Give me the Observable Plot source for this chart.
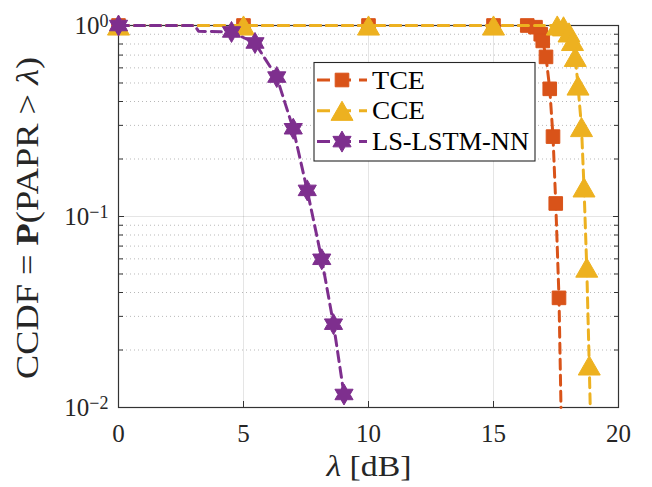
<!DOCTYPE html>
<html><head><meta charset="utf-8">
<script src="https://cdn.jsdelivr.net/npm/d3@7"></script>
<script src="https://cdn.jsdelivr.net/npm/@observablehq/plot@0.6"></script>
<style>body{margin:0;background:#fff} svg{display:block}</style>
</head><body><div id="chart"></div>
<script>
// ---- data ----
const seriesNames = ["TCE", "CCE", "LS-LSTM-NN"];
const seriesColors = ["#D95319", "#EDB120", "#7E2F8E"];

const tceX = [0, 5, 10, 15, 16.35, 16.68, 16.89, 16.97, 17.1, 17.25, 17.38, 17.49, 17.62, 17.70];
const tceY = [1, 1, 1, 1, 1, 0.98, 0.90, 0.83, 0.685, 0.466, 0.262, 0.117, 0.0375, 0.01];
const tceMk = [1,1,1,1,1,1,1,1,1,1,1,1,1,0];

const cceX = [0, 5, 10, 15, 17.55, 17.8, 18.02, 18.16, 18.27, 18.38, 18.52, 18.62, 18.73, 18.83, 18.87];
const cceY = [1, 1, 1, 1, 1, 0.99, 0.92, 0.83, 0.685, 0.485, 0.294, 0.142, 0.054, 0.0166, 0.01];
const cceMk = [1,1,1,1,1,1,1,1,1,1,1,1,1,1,0];

const lsX = [0, 3.05, 3.2, 4.52, 5.46, 6.33, 6.99, 7.55, 8.13, 8.6, 9.02];
const lsY = [1, 1, 0.933, 0.925, 0.81, 0.537, 0.288, 0.137, 0.0597, 0.0273, 0.0117];
const lsMk = [1,0,0,1,1,1,1,1,1,1,1];

const xTicks = [0, 5, 10, 15, 20];
const yTicks = [0.01, 0.1, 1];
const yTickLabels = ["10^−2", "10^−1", "10^0"];

// ---- build table ----
function rows(name, xs, ys, mk) { return xs.map((x, i) => ({series: name, x, y: ys[i], mk: mk[i]})); }
const tce = rows("TCE", tceX, tceY, tceMk);
const cce = rows("CCE", cceX, cceY, cceMk);
const ls = rows("LS-LSTM-NN", lsX, lsY, lsMk);

// custom marker symbols
const sqSym = {draw(ctx, size) { const r = Math.sqrt(size / Math.PI); ctx.moveTo(-r, -r); ctx.lineTo(r, -r); ctx.lineTo(r, r); ctx.lineTo(-r, r); ctx.closePath(); }};
const triSym = {draw(ctx, size) { const r = Math.sqrt(size / Math.PI); const h = r * 0.87; ctx.moveTo(0, -h); ctx.lineTo(r, h); ctx.lineTo(-r, h); ctx.closePath(); }};
const hexSym = {draw(ctx, size) { const R = Math.sqrt(size / Math.PI); const ri = R / Math.sqrt(3);
  for (let k = 0; k < 12; k++) { const a = -Math.PI / 2 + k * Math.PI / 6; const rr = k % 2 ? ri : R; const px = rr * Math.cos(a), py = rr * Math.sin(a); k ? ctx.lineTo(px, py) : ctx.moveTo(px, py); } ctx.closePath(); }};
const symbols = [sqSym, triSym, hexSym];
const symR = [6.8, 11, 10.5];

const minor = [];
for (const d of [0.01, 0.1]) for (let k = 2; k <= 9; k++) minor.push(+(k * d).toFixed(3));

const dash = "10,6";
const sets = [tce, cce, ls];
const dataMarks = [];
sets.forEach((s, i) => {
  dataMarks.push(Plot.line(s, {x: "x", y: "y", stroke: seriesColors[i], strokeWidth: 3, strokeDasharray: dash}));
  dataMarks.push(Plot.dot(s.filter(d => d.mk), {x: "x", y: "y", r: symR[i], symbol: () => symbols[i], fill: seriesColors[i], stroke: seriesColors[i], strokeWidth: 1}));
});

const axisColor = "#333";
const plot = Plot.plot({
  width: 652, height: 487,
  marginLeft: 118, marginRight: 34, marginTop: 25, marginBottom: 80,
  style: {fontFamily: "'Liberation Serif', serif", background: "#fff", overflow: "visible"},
  x: {domain: [0, 20]},
  y: {type: "log", domain: [0.01, 1]},
  marks: [
    Plot.gridY(minor, {stroke: "#000", strokeOpacity: 0.28, strokeDasharray: "1,3"}),
    Plot.gridX([5, 10, 15], {stroke: "#000", strokeOpacity: 0.1}),
    Plot.gridY([0.1], {stroke: "#000", strokeOpacity: 0.1}),
    Plot.frame({stroke: axisColor, strokeWidth: 1.2}),
    // inward ticks
    Plot.axisX({anchor: "bottom", ticks: xTicks, tickSize: 6, dy: -6, tickFormat: () => "", stroke: axisColor, label: null}),
    Plot.axisX({anchor: "top", ticks: xTicks, tickSize: 6, dy: 6, tickFormat: () => "", stroke: axisColor, label: null}),
    Plot.axisY({anchor: "left", ticks: yTicks, tickSize: 6, dx: 6, tickFormat: () => "", stroke: axisColor, label: null}),
    Plot.axisY({anchor: "right", ticks: yTicks, tickSize: 6, dx: -6, tickFormat: () => "", stroke: axisColor, label: null}),
    Plot.axisY({anchor: "left", ticks: minor, tickSize: 5, dx: 5, tickFormat: () => "", stroke: axisColor, label: null}),
    Plot.axisY({anchor: "right", ticks: minor, tickSize: 5, dx: -5, tickFormat: () => "", stroke: axisColor, label: null}),
    // tick labels
    Plot.axisX({anchor: "bottom", ticks: xTicks, tickSize: 0, tickPadding: 17, fontSize: 25, fill: "#262626", label: null}),
    Plot.axisY({anchor: "left", ticks: yTicks, tickSize: 0, tickPadding: 10, fontSize: 25, fill: "#262626", label: null,
      tickFormat: d => yTickLabels[yTicks.indexOf(d)]}),
    ...dataMarks
  ]
});
document.getElementById("chart").appendChild(plot);

const svg = d3.select(plot);
// superscript tick labels
svg.selectAll('g[aria-label="y-axis tick label"] text').each(function () {
  const t = d3.select(this);
  const s = t.text();
  if (!s.includes("^")) return;
  const [b, e] = s.split("^");
  t.text(null);
  t.append("tspan").text(b);
  t.append("tspan").attr("dy", "-7px").attr("font-size", "18px").text(e);
});

// axis labels
const font = "'Liberation Serif', serif";
const yl = svg.append("text").attr("transform", "translate(38,218) rotate(-90)")
  .attr("text-anchor", "middle").attr("font-family", font).attr("font-size", 31).attr("fill", "#262626")
  .attr("textLength", 322).attr("lengthAdjust", "spacingAndGlyphs");
yl.append("tspan").text("CCDF = ");
yl.append("tspan").attr("font-weight", "bold").text("P");
yl.append("tspan").text("(PAPR > ");
yl.append("tspan").attr("font-style", "italic").text("λ");
yl.append("tspan").text(")");

const xl = svg.append("text").attr("x", 369).attr("y", 476).attr("text-anchor", "middle")
  .attr("font-family", font).attr("font-size", 30).attr("fill", "#262626")
  .attr("textLength", 85).attr("lengthAdjust", "spacingAndGlyphs");
xl.append("tspan").attr("font-style", "italic").text("λ");
xl.append("tspan").text(" [dB]");

// legend
const legendTextLen = [53, 53, 157];
const lg = svg.append("g");
lg.append("rect").attr("x", 314).attr("y", 62.5).attr("width", 221).attr("height", 98.5)
  .attr("fill", "#fff").attr("stroke", "#262626").attr("stroke-width", 1.1);
seriesNames.forEach((n, i) => {
  const cy = 80 + i * 30.8;
  lg.append("line").attr("x1", 317).attr("x2", 367).attr("y1", cy).attr("y2", cy)
    .attr("stroke", seriesColors[i]).attr("stroke-width", 3).attr("stroke-dasharray", "13,8");
  lg.append("path").attr("transform", `translate(342,${cy})`)
    .attr("d", d3.symbol().type(symbols[i]).size(Math.PI * symR[i] * symR[i])())
    .attr("fill", seriesColors[i]).attr("stroke", seriesColors[i]);
  lg.append("text").attr("x", 372).attr("y", cy + 8.5).attr("text-anchor", "start")
    .attr("font-family", font).attr("font-size", 25).attr("fill", "#000")
    .attr("textLength", legendTextLen[i]).attr("lengthAdjust", "spacingAndGlyphs").text(n);
});
</script></body></html>
